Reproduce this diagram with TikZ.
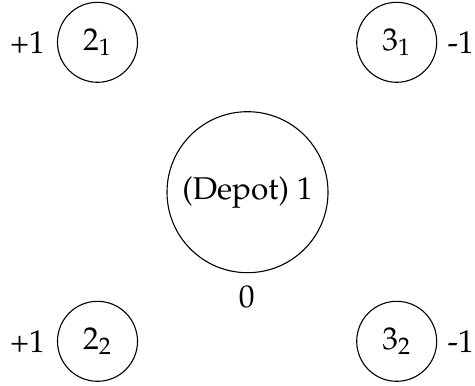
\documentclass[tikz,border=0pt]{standalone}
\usepackage[T1]{fontenc}
\usepackage{mathpazo}
\begin{document}
\begin{tikzpicture}[x=0.5pt,y=-0.5pt,
  small/.style={draw,circle,line width=0.55pt,minimum size=40pt,inner sep=0pt},
  big/.style={draw,circle,line width=0.55pt,minimum size=80.5pt,inner sep=0pt},
  lbl/.style={inner sep=0pt,anchor=base}]
\useasboundingbox (0,0) rectangle (475,385);
\fontfamily{ppl}\fontsize{15.75}{19}\selectfont
\node[small] (a1) at (97.5,42.3) {$2_1$};
\node[small] (b1) at (396.7,42.3) {$3_1$};
\node[big] (d) at (247.5,192.2) {(Depot) 1};
\node[small] (a2) at (97.5,341.3) {$2_2$};
\node[small] (b2) at (396.7,341.3) {$3_2$};
\node[lbl] (la1) at (27.5,53.3) {+1};
\node[lbl] (lb1) at (460.8,53.3) {-1};
\node[lbl] (ld) at (246.7,307.3) {0};
\node[lbl] (la2) at (27.5,352.3) {+1};
\node[lbl] (lb2) at (460.8,352.3) {-1};
\end{tikzpicture}
\end{document}
